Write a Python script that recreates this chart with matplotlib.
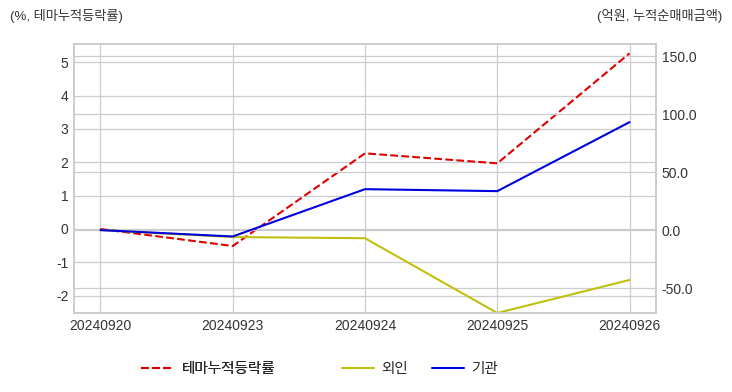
import matplotlib
matplotlib.use("Agg")
import matplotlib.pyplot as plt
import matplotlib.ticker as ticker
import seaborn as sns

# ── Data ───────────────────────────────────────────────────────────────────────
dates = ["20240920", "20240923", "20240924", "20240925", "20240926"]
theme_return = [0.0, -0.51, 2.27, 1.97, 5.27]      # %, left axis
foreign_net = [0.0, -6.0, -7.0, -71.5, -43.0]      # 억원, right axis
inst_net = [0.0, -5.5, 35.3, 33.6, 93.1]           # 억원, right axis

sns.set_style("whitegrid")
plt.rcParams["font.family"] = ["Liberation Sans", "Noto Sans CJK KR", "DejaVu Sans"]
plt.rcParams["axes.unicode_minus"] = False

fig = plt.figure(figsize=(7.32, 3.92), dpi=100)
ax = fig.add_axes([74 / 732, 1 - 313 / 392, (656 - 74) / 732, (313 - 44) / 392])
ax2 = ax.twinx()

x = list(range(len(dates)))
l1, = ax.plot(x, theme_return, color="#e00000", linestyle="--", linewidth=1.5,
              label="테마누적등락률")
l2, = ax2.plot(x, foreign_net, color="#c0c010", linewidth=1.5, label="외인")
l3, = ax2.plot(x, inst_net, color="#0000e0", linewidth=1.5, label="기관")

ax.set_xlim(-0.2, 4.2)
ax.set_ylim(-2.52, 5.55)
ax2.set_ylim(-71.5, 160.5)
ax.set_xticks(x)
ax.set_xticklabels(dates)
ax.set_yticks([-2, -1, 0, 1, 2, 3, 4, 5])
ax2.set_yticks([-50, 0, 50, 100, 150])
ax2.yaxis.set_major_formatter(ticker.FormatStrFormatter("%.1f"))

for a in (ax, ax2):
    a.tick_params(labelsize=10, colors="#333333", length=0, pad=4)
    for s in a.spines.values():
        s.set_color("#cccccc")
        s.set_linewidth(1.2)
    a.grid(True, color="#cccccc", linewidth=0.9)

fig.text(10 / 732, 1 - 16 / 392, "(%, 테마누적등락률)", fontsize=9.5,
         color="#333333", va="center", ha="left")
fig.text(722 / 732, 1 - 16 / 392, "(억원, 누적순매매금액)", fontsize=9.5,
         color="#333333", va="center", ha="right")

# two separate legends, like the original layout
leg_y = 1 - 369 / 392
leg1 = fig.legend(handles=[l1], loc="center left", bbox_to_anchor=(128 / 732, leg_y),
                  frameon=False, fontsize=10.5, handlelength=2.2, handletextpad=0.6)
fig.legend(handles=[l2, l3], loc="center left", bbox_to_anchor=(329 / 732, leg_y),
           ncol=2, frameon=False, fontsize=10.5, handlelength=2.2,
           handletextpad=0.5, columnspacing=1.6)
fig.add_artist(leg1)

fig.savefig("out.png", dpi=100)
